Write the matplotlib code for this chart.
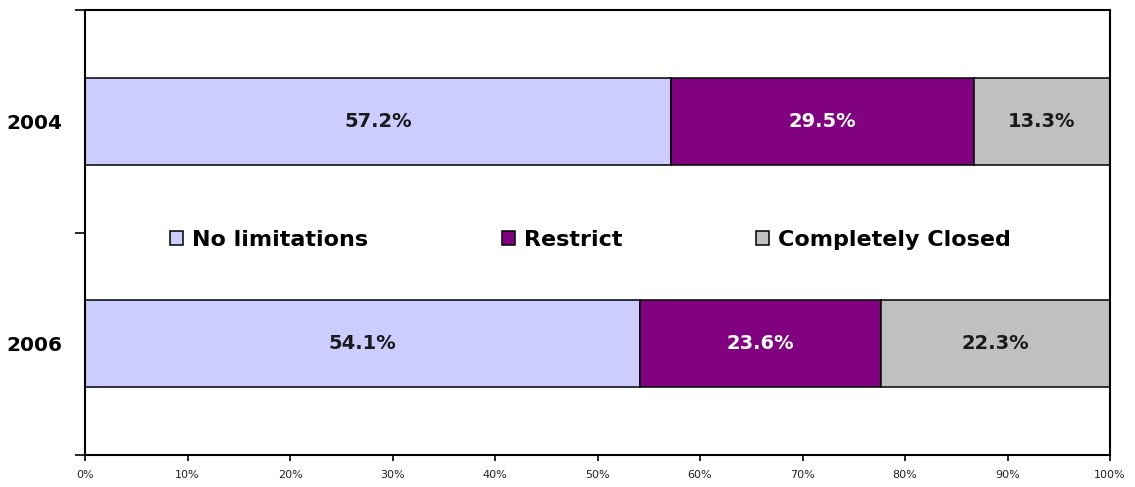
import matplotlib.pyplot as plt
import numpy as np

years = ["2006", "2004"]
categories = ["No limitations", "Restrict", "Completely Closed"]
no_limitations = [54.1, 57.2]
restrict = [23.6, 29.5]
completely_closed = [22.3, 13.3]
colors = ["#CCCCFF", "#800080", "#C0C0C0"]
text_colors = ["#1a1a1a", "white", "#1a1a1a"]

fig = plt.figure(figsize=(11.35, 4.87), dpi=100)
ax = fig.add_axes([0.0749, 0.0657, 0.978 - 0.0749, 0.979 - 0.0657])

y = np.arange(len(years)) + 0.5
left = np.zeros(len(years))
for vals, name, col, tcol in zip([no_limitations, restrict, completely_closed],
                                 categories, colors, text_colors):
    vals = np.array(vals)
    ax.barh(y, vals, left=left, height=0.39, color=col, edgecolor="black",
            linewidth=1.1, label=name)
    for yy, l, v in zip(y, left, vals):
        ax.text(l + v / 2, yy, f"{v:.1f}%", ha="center", va="center",
                color=tcol, fontsize=14, fontweight="bold")
    left += vals

ax.set_xlim(0, 100)
ax.set_ylim(0, len(years))
ax.set_xticks(np.arange(0, 101, 10))
ax.set_xticklabels([f"{t}%" for t in range(0, 101, 10)], fontsize=8, color="#222222")
ax.tick_params(axis="x", length=4, width=1.2, pad=7)

# year labels at centers, tick marks at boundaries
ax.set_yticks([0, 1, 2])
ax.set_yticklabels([])
ax.tick_params(axis="y", which="major", length=7, width=1.2)
ax.set_yticks(y, minor=True)
ax.set_yticklabels(years, minor=True, fontsize=14.5, fontweight="bold")
ax.tick_params(axis="y", which="minor", length=0, pad=16)

for s in ax.spines.values():
    s.set_linewidth(1.5)

ax.legend(loc="center", bbox_to_anchor=(0.493, 0.483), ncol=3, frameon=False,
          prop={"size": 16, "weight": "bold"}, handlelength=0.6, handleheight=0.6,
          handletextpad=0.4, columnspacing=6.0)

fig.savefig("out.png", dpi=100)
